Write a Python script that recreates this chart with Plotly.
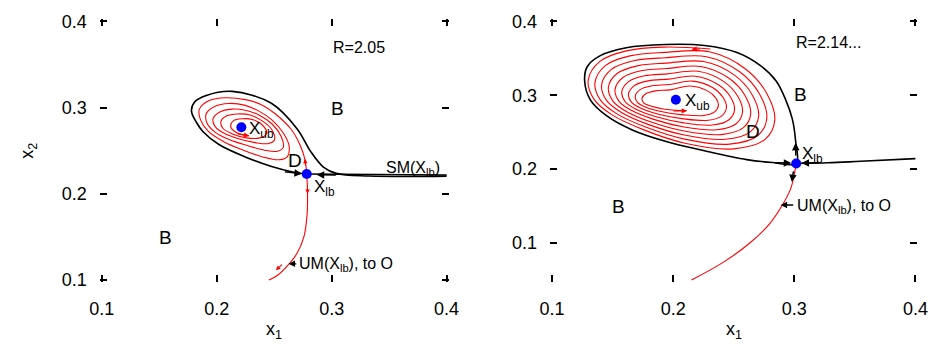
import plotly.graph_objects as go

FONT = "Liberation Sans, Arial, Helvetica, sans-serif"

# ---------------- data (panel 1, R=2.05) ----------------
p1_xub = [0.2214]
p1_yub = [0.2771]
p1_xlb = [0.2783]
p1_ylb = [0.2229]

# stable manifold, tear-drop branch (from right edge, around, into X_lb)
p1_sm1_x = [0.400, 0.3324, 0.304, 0.2928, 0.2815, 0.270, 0.2475, 0.2135, 0.1908, 0.1809,
            0.178, 0.1824, 0.1883, 0.2019, 0.2248, 0.2477, 0.2672, 0.2783]
p1_sm1_y = [0.2205, 0.2207, 0.2237, 0.231, 0.2495, 0.2752, 0.305, 0.3188, 0.314, 0.3067,
            0.2959, 0.2827, 0.2716, 0.2572, 0.2428, 0.2317, 0.2251, 0.2229]
# stable manifold, direct branch from the right
p1_sm2_x = [0.400, 0.2783]
p1_sm2_y = [0.2218, 0.2229]

# unstable manifold, upper branch spiralling into X_ub
p1_um1_x = [0.2783, 0.2766, 0.2723, 0.2647, 0.2511, 0.2384, 0.2248, 0.2078, 0.1934, 0.1849,
            0.1858, 0.1925, 0.2061, 0.2231, 0.2401, 0.2545,
            0.2613, 0.2630, 0.2579, 0.2477, 0.2367, 0.2248, 0.2104, 0.1985, 0.1908, 0.1917,
            0.1985, 0.2112, 0.2265, 0.2418, 0.2528,
            0.2579, 0.2562, 0.2486, 0.2367, 0.2248, 0.2129, 0.2027, 0.1968, 0.1985, 0.2061,
            0.2189, 0.2333, 0.2452,
            0.2503, 0.2477, 0.2392, 0.2290, 0.2180, 0.2087, 0.2036, 0.2053, 0.2138, 0.2257,
            0.2375,
            0.2435, 0.2392, 0.2316, 0.2223, 0.2146, 0.2121, 0.2163, 0.2231, 0.2282]
p1_um1_y = [0.2229, 0.2406, 0.2572, 0.2749, 0.2926, 0.3037, 0.3092, 0.3114, 0.3081, 0.2982,
            0.2860, 0.2727, 0.2605, 0.2506, 0.2428, 0.2395,
            0.2428, 0.2550, 0.2705, 0.2860, 0.2959, 0.3026, 0.3048, 0.3015, 0.2926, 0.2815,
            0.2716, 0.2627, 0.2561, 0.2506, 0.2494,
            0.2539, 0.2661, 0.2804, 0.2915, 0.2970, 0.2982, 0.2948, 0.2871, 0.2782, 0.2705,
            0.2638, 0.2594, 0.2583,
            0.2627, 0.2749, 0.2849, 0.2915, 0.2926, 0.2904, 0.2838, 0.2760, 0.2694, 0.2649,
            0.2649,
            0.2705, 0.2804, 0.2860, 0.2871, 0.2849, 0.2782, 0.2716, 0.2683, 0.2672]
# unstable manifold, lower branch (towards O)
p1_um2_x = [0.2783, 0.279, 0.2786, 0.2758, 0.270, 0.2616, 0.253, 0.2455]
p1_um2_y = [0.2229, 0.2015, 0.1756, 0.150, 0.1313, 0.1166, 0.1055, 0.1000]

# ---------------- data (panel 2, R=2.14...) ----------------
p2_xub = [0.2022]
p2_yub = [0.2940]
p2_xlb = [0.3016]
p2_ylb = [0.2078]

p2_sm1_x = [0.3016, 0.3011, 0.2984, 0.2930, 0.2850, 0.2715, 0.2527, 0.2258, 0.1935, 0.1613,
            0.1398, 0.1290, 0.1269, 0.1317, 0.1452, 0.1667, 0.1935, 0.2258, 0.2607, 0.2823, 0.3016]
p2_sm1_y = [0.2078, 0.2378, 0.2678, 0.2935, 0.3193, 0.3408, 0.3579, 0.3674, 0.3687, 0.3643,
            0.3536, 0.3386, 0.3193, 0.2935, 0.2721, 0.2528, 0.2378, 0.2249, 0.2129, 0.2090, 0.2078]
p2_sm2_x = [0.3016, 0.328, 0.3548, 0.400]
p2_sm2_y = [0.2078, 0.2086, 0.2107, 0.2143]

# red spiral of panel 2: one list per position around the loop (a = top, going
# counter-clockwise on screen), one value per turn (outermost turn first)
p2_sp_start = (0.2307, 0.3627)
p2_sp_ax = [0.1919, 0.1926, 0.1933, 0.1940, 0.1947, 0.1955, 0.1962, 0.1969, 0.1976]
p2_sp_ay = [0.3652, 0.3580, 0.3507, 0.3435, 0.3362, 0.3290, 0.3218, 0.3145, 0.3073]
p2_sp_bx = [0.1613, 0.1643, 0.1674, 0.1704, 0.1734, 0.1764, 0.1795, 0.1825, 0.1855]
p2_sp_by = [0.3601, 0.3533, 0.3466, 0.3398, 0.3331, 0.3263, 0.3195, 0.3128, 0.3060]
p2_sp_cx = [0.1395, 0.1442, 0.1490, 0.1537, 0.1585, 0.1632, 0.1679, 0.1727, 0.1774]
p2_sp_cy = [0.3459, 0.3404, 0.3350, 0.3295, 0.3240, 0.3185, 0.3131, 0.3076, 0.3021]
p2_sp_dx = [0.1298, 0.1354, 0.1409, 0.1465, 0.1520, 0.1576, 0.1631, 0.1687, 0.1742]
p2_sp_dy = [0.3202, 0.3171, 0.3141, 0.3110, 0.3080, 0.3049, 0.3018, 0.2988, 0.2957]
p2_sp_ex = [0.1347, 0.1398, 0.1450, 0.1501, 0.1553, 0.1604, 0.1655, 0.1707, 0.1758]
p2_sp_ey = [0.2944, 0.2938, 0.2931, 0.2925, 0.2918, 0.2912, 0.2906, 0.2899, 0.2893]
p2_sp_fx = [0.1492, 0.1532, 0.1573, 0.1613, 0.1654, 0.1694, 0.1734, 0.1775, 0.1815]
p2_sp_fy = [0.2738, 0.2752, 0.2767, 0.2781, 0.2796, 0.2810, 0.2825, 0.2839, 0.2854]
p2_sp_gx = [0.1758, 0.1778, 0.1798, 0.1818, 0.1839, 0.1859, 0.1879, 0.1899, 0.1919]
p2_sp_gy = [0.2532, 0.2567, 0.2603, 0.2638, 0.2674, 0.2709, 0.2744, 0.2780, 0.2815]
p2_sp_hx = [0.2097, 0.2095, 0.2093, 0.2091, 0.2089, 0.2087, 0.2085, 0.2083, 0.2113]
p2_sp_hy = [0.2352, 0.2407, 0.2462, 0.2516, 0.2571, 0.2626, 0.2681, 0.2735, 0.2790]
p2_sp_ix = [0.2500, 0.2465, 0.2430, 0.2394, 0.2359, 0.2324, 0.2289, 0.2253]
p2_sp_iy = [0.2275, 0.2339, 0.2404, 0.2468, 0.2533, 0.2597, 0.2661, 0.2726]
p2_sp_jx = [0.2758, 0.2699, 0.2639, 0.2580, 0.2520, 0.2461, 0.2401, 0.2342]
p2_sp_jy = [0.2403, 0.2456, 0.2509, 0.2562, 0.2615, 0.2669, 0.2722, 0.2775]
p2_sp_kx = [0.2839, 0.2773, 0.2706, 0.2640, 0.2573, 0.2507, 0.2440, 0.2374]
p2_sp_ky = [0.2661, 0.2690, 0.2719, 0.2748, 0.2777, 0.2806, 0.2835, 0.2864]
p2_sp_lx = [0.2774, 0.2714, 0.2653, 0.2593, 0.2532, 0.2472, 0.2411, 0.2351]
p2_sp_ly = [0.3021, 0.3013, 0.3005, 0.2997, 0.2989, 0.2981, 0.2973, 0.2965]
p2_sp_mx = [0.2597, 0.2552, 0.2506, 0.2461, 0.2416, 0.2370, 0.2325, 0.2279]
p2_sp_my = [0.3356, 0.3314, 0.3272, 0.3230, 0.3188, 0.3146, 0.3105, 0.3063]
p2_sp_nx = [0.2298, 0.2275, 0.2252, 0.2229, 0.2206, 0.2183, 0.2160, 0.2137]
p2_sp_ny = [0.3588, 0.3522, 0.3456, 0.3390, 0.3324, 0.3258, 0.3192, 0.3126]

p2_um2_x = [0.3016, 0.2997, 0.2970, 0.2903, 0.2796, 0.2635, 0.2419, 0.2151]
p2_um2_y = [0.2078, 0.1905, 0.1734, 0.1519, 0.1261, 0.1004, 0.0746, 0.0500]

ticks = [0.1, 0.2, 0.3, 0.4]
tick_text = ["0.1", "0.2", "0.3", "0.4"]

BLACK = "black"
RED = "#ff0000"
BLUE = "#0000ff"

# assemble the panel-2 spiral path from the per-position lists
pos_x = [p2_sp_ax, p2_sp_bx, p2_sp_cx, p2_sp_dx, p2_sp_ex, p2_sp_fx, p2_sp_gx,
         p2_sp_hx, p2_sp_ix, p2_sp_jx, p2_sp_kx, p2_sp_lx, p2_sp_mx, p2_sp_nx]
pos_y = [p2_sp_ay, p2_sp_by, p2_sp_cy, p2_sp_dy, p2_sp_ey, p2_sp_fy, p2_sp_gy,
         p2_sp_hy, p2_sp_iy, p2_sp_jy, p2_sp_ky, p2_sp_ly, p2_sp_my, p2_sp_ny]
p2_um1_x = [p2_sp_start[0]]
p2_um1_y = [p2_sp_start[1]]
for turn in range(len(p2_sp_ax)):
    for pxs, pys in zip(pos_x, pos_y):
        if turn < len(pxs):
            p2_um1_x.append(pxs[turn])
            p2_um1_y.append(pys[turn])

fig = go.Figure()


def line(x, y, color, width, xa, ya, spline=True, smoothing=1.0):
    fig.add_trace(go.Scatter(x=x, y=y, mode="lines", xaxis=xa, yaxis=ya,
                             line=dict(color=color, width=width,
                                       shape="spline" if spline else "linear",
                                       smoothing=smoothing),
                             hoverinfo="skip", showlegend=False))


def dot(x, y, xa, ya):
    fig.add_trace(go.Scatter(x=x, y=y, mode="markers", xaxis=xa, yaxis=ya,
                             marker=dict(color=BLUE, size=10, line=dict(width=0)),
                             hoverinfo="skip", showlegend=False))


# panel 1
line(p1_um1_x, p1_um1_y, RED, 1.1, "x", "y")
line(p1_um2_x, p1_um2_y, RED, 1.1, "x", "y")
line(p1_sm1_x, p1_sm1_y, BLACK, 1.6, "x", "y")
line(p1_sm2_x, p1_sm2_y, BLACK, 1.6, "x", "y", spline=False)
dot(p1_xub, p1_yub, "x", "y")
dot(p1_xlb, p1_ylb, "x", "y")

# panel 2
line(p2_um1_x, p2_um1_y, RED, 1.1, "x2", "y2")
line(p2_um2_x, p2_um2_y, RED, 1.1, "x2", "y2")
line(p2_sm1_x, p2_sm1_y, BLACK, 1.6, "x2", "y2")
line(p2_sm2_x, p2_sm2_y, BLACK, 1.6, "x2", "y2")
dot(p2_xub, p2_yub, "x2", "y2")
dot(p2_xlb, p2_ylb, "x2", "y2")

ann = []


def text(x, y, s, xr, yr, size=16, xanchor="center", yanchor="middle", angle=0):
    ann.append(dict(x=x, y=y, xref=xr, yref=yr, text=s, showarrow=False,
                    xanchor=xanchor, yanchor=yanchor, textangle=angle,
                    font=dict(family=FONT, size=size, color="black")))


def arrow(x0, y0, x1, y1, xr, yr, color=BLACK, width=1.5, size=1.0):
    ann.append(dict(x=x1, y=y1, ax=x0, ay=y0, xref=xr, yref=yr, axref=xr, ayref=yr,
                    text="", showarrow=True, arrowhead=2, arrowsize=size,
                    arrowwidth=width, arrowcolor=color, standoff=0, startstandoff=0))


# panel 1 texts
text(0.2995, 0.370, "R=2.05", "x", "y", 16, xanchor="left")
text(0.305, 0.299, "B", "x", "y", 19)
text(0.155, 0.149, "B", "x", "y", 19)
text(0.268, 0.2384, "D", "x", "y", 19)
text(0.2265, 0.2745, "X<sub>ub</sub>", "x", "y", 17, xanchor="left")
text(0.2825, 0.2070, "X<sub>lb</sub>", "x", "y", 17, xanchor="left")
text(0.3963, 0.2295, "SM(X<sub>lb</sub>)", "x", "y", 16, xanchor="right")
text(0.2700, 0.1180, "UM(X<sub>lb</sub>), to O", "x", "y", 16, xanchor="left")

arrow(0.258, 0.2258, 0.2741, 0.2232, "x", "y")
arrow(0.305, 0.2217, 0.287, 0.2221, "x", "y")
arrow(0.2705, 0.1188, 0.2625, 0.1188, "x", "y", width=1.3)
arrow(0.217, 0.2698, 0.2282, 0.2672, "x", "y", color=RED, width=1.3, size=0.8)
arrow(0.2775, 0.231, 0.2766, 0.2406, "x", "y", color=RED, width=1.1, size=0.8)
arrow(0.279, 0.209, 0.279, 0.200, "x", "y", color=RED, width=1.1, size=0.8)
arrow(0.258, 0.1195, 0.2515, 0.1115, "x", "y", color=RED, width=1.1, size=0.8)

# panel 2 texts
text(0.300, 0.371, "R=2.14...", "x2", "y2", 16, xanchor="left")
text(0.305, 0.301, "B", "x2", "y2", 19)
text(0.155, 0.150, "B", "x2", "y2", 19)
text(0.2656, 0.2506, "D", "x2", "y2", 19)
text(0.2083, 0.2905, "X<sub>ub</sub>", "x2", "y2", 17, xanchor="left")
text(0.3050, 0.2195, "X<sub>lb</sub>", "x2", "y2", 17, xanchor="left")
text(0.3003, 0.1490, "UM(X<sub>lb</sub>), to O", "x2", "y2", 16, xanchor="left")

arrow(0.283, 0.2086, 0.2975, 0.2082, "x2", "y2")
arrow(0.322, 0.2088, 0.306, 0.2082, "x2", "y2")
arrow(0.3013, 0.2163, 0.3011, 0.2356, "x2", "y2")
arrow(0.2995, 0.199, 0.2980, 0.1825, "x2", "y2")
arrow(0.3003, 0.1515, 0.2887, 0.1515, "x2", "y2", width=1.3)
arrow(0.2232, 0.3623, 0.2151, 0.3623, "x2", "y2", color=RED, width=1.3, size=0.8)
arrow(0.1992, 0.2790, 0.2113, 0.2790, "x2", "y2", color=RED, width=1.3, size=0.8)

W, H = 943, 352


def px(X):
    return X / W


def py(Y):
    return 1 - Y / H


# axis titles
text(px(269.5), py(338), "x<sub>1</sub>", "paper", "paper", 18)
text(px(740), py(338), "x<sub>1</sub>", "paper", "paper", 18)
text(px(18), py(150), "x<sub>2</sub>", "paper", "paper", 18, angle=-90)


def axis(rng, dom, anchor, standoff):
    return dict(range=rng, domain=dom, anchor=anchor, tickvals=ticks, ticktext=tick_text,
                ticks="inside", ticklen=7, tickwidth=1.5, tickcolor="black",
                mirror="ticks", showline=False, showgrid=False, zeroline=False,
                ticklabelstandoff=standoff,
                tickfont=dict(family=FONT, size=18, color="black"), fixedrange=True)


# ranges padded by ~2 px so that the corner ticks are kept
ydom = [py(287), py(12)]
fig.update_layout(
    width=W, height=H, margin=dict(l=0, r=0, t=0, b=0),
    paper_bgcolor="white", plot_bgcolor="white",
    xaxis=axis([0.0983, 0.4017], [px(91), px(448)], "y", 14),
    yaxis=axis([0.09779, 0.40221], ydom, "x", 12),
    xaxis2=axis([0.09839, 0.40161], [px(552), px(928)], "y2", 14),
    yaxis2=axis([0.04742, 0.40258], ydom, "x2", 12),
    annotations=ann,
)

fig.write_html("out.html")
